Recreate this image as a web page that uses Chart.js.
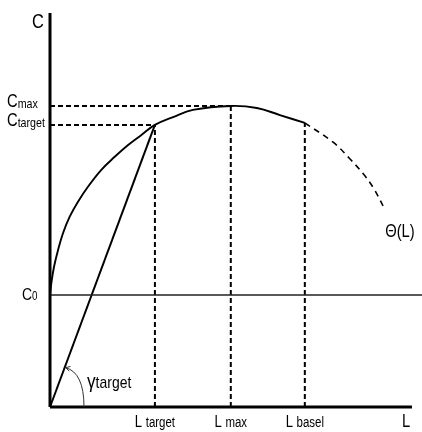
<!DOCTYPE html>
<html>
<head>
<meta charset="utf-8">
<style>
  html, body { margin: 0; padding: 0; background: #fff; }
  canvas { display: block; }
</style>
<script src="https://cdn.jsdelivr.net/npm/chart.js@4"></script>
</head>
<body>
<canvas id="c" width="422" height="432"></canvas>
<script>
// Key operating points (L on the horizontal axis, C on the vertical axis)
const L_TARGET = 28.2;
const L_MAX = 48.6;
const L_BASEL = 68.5;
const L_END = 97.3;
const C0 = 28.4;
const C_TARGET = 71.6;
const C_MAX = 76.4;
const C_BASEL = 72.1;

// Θ(L): measured part (solid) and extrapolated part (dashed)
const solidL = [0, 0.35, 1.08, 2.15, 3.49, 5.3, 7.53, 10.2, 13.8, 17.4, 21.0, 24.5, L_TARGET, 33.1, 38.4, L_MAX, 55.6, 61.8, L_BASEL];
const solidC = [C0, 31.4, 35.6, 39.8, 44.1, 48.3, 52.1, 55.9, 60.2, 63.5, 66.5, 69.0, C_TARGET, 73.6, 75.4, C_MAX, 75.9, 74.1, C_BASEL];
const dashedL = [L_BASEL, 76.1, 80.6, 84.1, 86.8, 90.1];
const dashedC = [C_BASEL, 67.2, 63.0, 59.3, 55.8, 50.0];

// Axis labels: [main text, subscript]
const xTickValues = [L_TARGET, L_MAX, L_BASEL];
const xTickLabels = [['L', 'target'], ['L', 'max'], ['L', 'basel']];
const yTickValues = [C_MAX, C_TARGET, C0];
const yTickLabels = [['C', 'max'], ['C', 'target'], ['C', '0']];

const FONT = '"Liberation Sans", Arial, sans-serif';
const SQUEEZE = 0.82; // narrow letterforms

const pts = (xs, ys) => xs.map((x, i) => ({ x, y: ys[i] }));
const seg = (x1, y1, x2, y2) => [{ x: x1, y: y1 }, { x: x2, y: y2 }];

const base = { showLine: true, pointRadius: 0, borderColor: '#000', clip: false, fill: false };

const datasets = [
  // axes
  { ...base, data: seg(0, 0, 0, 100), borderWidth: 3 },
  { ...base, data: seg(0, 0, L_END, 0), borderWidth: 3 },
  // C0 level
  { ...base, data: seg(0, C0, 100, C0), borderWidth: 1.5, borderColor: '#222' },
  // reference dashed lines
  { ...base, data: seg(0, C_MAX, L_MAX, C_MAX), borderWidth: 2, borderDash: [5, 3] },
  { ...base, data: seg(0, C_TARGET, L_TARGET, C_TARGET), borderWidth: 2, borderDash: [5, 3] },
  { ...base, data: seg(L_TARGET, 0, L_TARGET, C_TARGET), borderWidth: 2, borderDash: [5, 3] },
  { ...base, data: seg(L_MAX, 0, L_MAX, C_MAX), borderWidth: 2, borderDash: [5, 3] },
  { ...base, data: seg(L_BASEL, 0, L_BASEL, C_BASEL), borderWidth: 2, borderDash: [5, 3] },
  // target ray from origin
  { ...base, data: seg(0, 0, L_TARGET, C_TARGET), borderWidth: 2 },
  // Θ(L)
  { ...base, data: pts(solidL, solidC), borderWidth: 1.9, tension: 0.4 },
  { ...base, data: pts(dashedL, dashedC), borderWidth: 1.6, borderDash: [6, 5], tension: 0.4 }
];

// draws narrow text and returns its advance width
function txt(ctx, s, x, y, size) {
  ctx.font = size + 'px ' + FONT;
  ctx.save();
  ctx.translate(x, y);
  ctx.scale(SQUEEZE, 1);
  ctx.fillText(s, 0, 0);
  ctx.restore();
  return ctx.measureText(s).width * SQUEEZE;
}
function txtW(ctx, s, size) {
  ctx.font = size + 'px ' + FONT;
  return ctx.measureText(s).width * SQUEEZE;
}

const labelsPlugin = {
  id: 'labels',
  afterDatasetsDraw(chart) {
    const { ctx, scales: { x, y } } = chart;
    const ox = x.getPixelForValue(0), oy = y.getPixelForValue(0);
    ctx.save();
    ctx.fillStyle = '#000';
    ctx.textBaseline = 'alphabetic';
    ctx.textAlign = 'left';

    // axis titles
    txt(ctx, 'C', ox - 18, y.getPixelForValue(100) + 15, 20);
    txt(ctx, 'L', x.getPixelForValue(L_END) - 10, oy + 20, 18);

    // vertical-axis labels
    yTickValues.forEach((v, i) => {
      const [m, s] = yTickLabels[i];
      const py = y.getPixelForValue(v);
      if (s === '0') {
        const w = txt(ctx, m, ox - 28, py + 5, 17);
        txt(ctx, s, ox - 28 + w, py + 5, 12);
      } else {
        const w = txt(ctx, m, ox - 43, py + 1, 18);
        txt(ctx, s, ox - 43 + w, py + 2, 13);
      }
    });

    // horizontal-axis labels
    xTickValues.forEach((v, i) => {
      const [m, s] = xTickLabels[i];
      const w1 = txtW(ctx, m + ' ', 16), w2 = txtW(ctx, s, 14);
      const px = x.getPixelForValue(v) - (w1 + w2) / 2;
      txt(ctx, m + ' ', px, oy + 20, 16);
      txt(ctx, s, px + w1, oy + 20, 14);
    });

    // curve name
    txt(ctx, 'Θ(L)', x.getPixelForValue(dashedL[dashedL.length - 1]),
        y.getPixelForValue(dashedC[dashedC.length - 1]) + 27, 18);

    // angle marker between the target ray and the L axis
    const tx = x.getPixelForValue(L_TARGET) - ox, ty = y.getPixelForValue(C_TARGET) - oy;
    const len = Math.hypot(tx, ty);
    const r = 42;
    const tipX = ox + tx / len * r + 1, tipY = oy + ty / len * r;
    const endX = ox + 34, endY = oy;
    const cX = endX, cY = tipY + 5;
    ctx.strokeStyle = '#333';
    ctx.lineWidth = 1;
    ctx.beginPath();
    ctx.moveTo(endX, endY);
    ctx.quadraticCurveTo(cX, cY, tipX, tipY);
    ctx.stroke();
    const ang = Math.atan2(tipY - cY, tipX - cX);
    const ah = 5;
    ctx.beginPath();
    ctx.moveTo(tipX - ah * Math.cos(ang + 0.5), tipY - ah * Math.sin(ang + 0.5));
    ctx.lineTo(tipX, tipY);
    ctx.lineTo(tipX - ah * Math.cos(ang - 0.5), tipY - ah * Math.sin(ang - 0.5));
    ctx.stroke();

    // angle label
    const gw = txt(ctx, 'γ', ox + 37, oy - 19, 21);
    txt(ctx, 'target', ox + 37 + gw, oy - 19, 17);
    ctx.restore();
  }
};

new Chart(document.getElementById('c'), {
  type: 'scatter',
  data: { datasets },
  options: {
    responsive: false,
    animation: false,
    events: [],
    layout: { padding: { left: 50, top: 13, right: 0, bottom: 25 } },
    plugins: { legend: { display: false }, tooltip: { enabled: false } },
    scales: {
      x: { type: 'linear', min: 0, max: 100, display: false },
      y: { type: 'linear', min: 0, max: 100, display: false }
    }
  },
  plugins: [labelsPlugin]
});
</script>
</body>
</html>
